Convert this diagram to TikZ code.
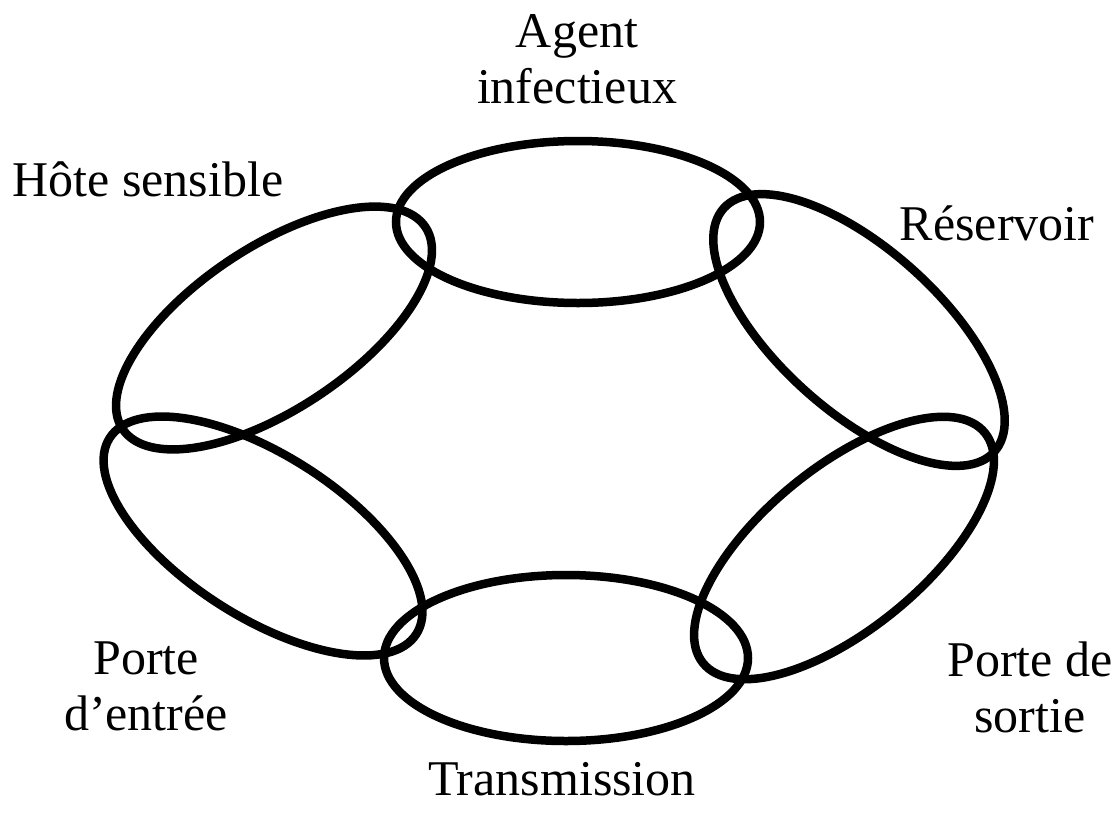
\documentclass[tikz,border=0pt]{standalone}
\usepackage{fontspec}
\setmainfont{Liberation Serif}
\usetikzlibrary{shapes.geometric}
\begin{document}
\begin{tikzpicture}[x=1pt,y=-1pt,
  ring/.style={draw=black, line width=8.5pt, ellipse, inner sep=0pt,
    minimum width=364pt, minimum height=162pt},
  lab/.style={font=\fontsize{50}{56}\selectfont, align=center, inner sep=0pt, anchor=base}]
\path[use as bounding box] (0,0) rectangle (1120,815);
\node[ring] (agent) at (578,222) {};
\node[ring, rotate=-42] (res) at (859,330) {};
\node[ring, rotate=39.3] (sortie) at (844,548) {};
\node[ring, minimum height=166pt] (trans) at (566,658) {};
\node[ring, rotate=-32.6] (entree) at (263,536) {};
\node[ring, rotate=33.7] (hote) at (274,328) {};
\node[lab] (lagent) at (577,103) {Agent\\infectieux};
\node[lab] (lhote) at (148,196) {Hôte sensible};
\node[lab] (lres) at (997,240) {Réservoir};
\node[lab] (lentree) at (146,730) {Porte\\d’entrée};
\node[lab] (lsortie) at (1030,732) {Porte de\\sortie};
\node[lab] (ltrans) at (562,795) {Transmission};
\end{tikzpicture}
\end{document}
